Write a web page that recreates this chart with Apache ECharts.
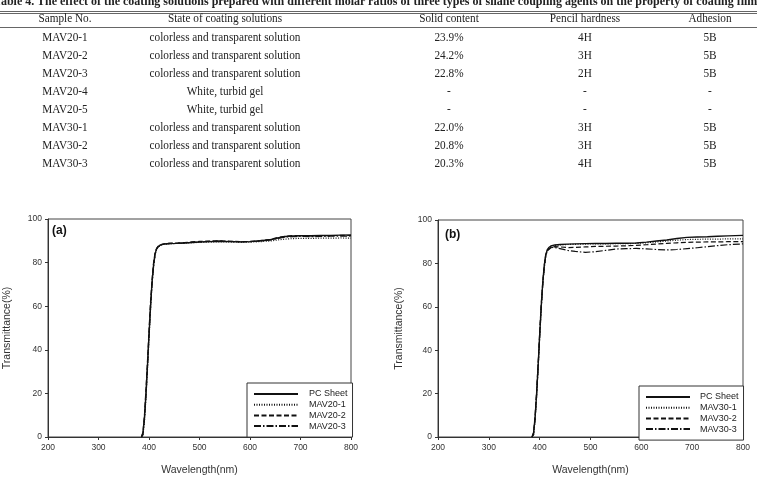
<!DOCTYPE html>
<html>
<head>
<meta charset="utf-8">
<script src="https://cdn.jsdelivr.net/npm/echarts@6/dist/echarts.min.js"></script>
<style>
html,body{margin:0;padding:0;background:#fff;}
#wrap{position:relative;width:757px;height:477px;overflow:hidden;}
#chart{position:absolute;left:0;top:0;width:757px;height:477px;}
#tbl{position:absolute;left:0;top:0;width:757px;height:180px;font-family:"Liberation Serif","Times New Roman",serif;color:#222;}
.cell{position:absolute;white-space:nowrap;transform:translate(-50%,-50%) scaleX(0.9);font-size:12.5px;line-height:14px;}
.rule{position:absolute;left:0;width:757px;height:1px;background:#666;}
</style>
</head>
<body>
<div id="wrap"><div id="chart"></div><div id="tbl"></div></div>
<script>
// table
var tableTitle='Table 4. The effect of the coating solutions prepared with different molar ratios of three types of silane coupling agents on the property of coating films';
var tableHeader=['Sample No.','State of coating solutions','Solid content','Pencil hardness','Adhesion'];
var sampleNo=['MAV20-1','MAV20-2','MAV20-3','MAV20-4','MAV20-5','MAV30-1','MAV30-2','MAV30-3'];
var solState=['colorless and transparent solution','colorless and transparent solution','colorless and transparent solution','White, turbid gel','White, turbid gel','colorless and transparent solution','colorless and transparent solution','colorless and transparent solution'];
var solidContent=['23.9%','24.2%','22.8%','-','-','22.0%','20.8%','20.3%'];
var pencilHardness=['4H','3H','2H','-','-','3H','3H','4H'];
var adhesion=['5B','5B','5B','-','-','5B','5B','5B'];

// spectra (a)
var wlA=[385,388,391,394,397,400,403,406,409,412,415,418,422,426,430,440,455,470,485,500,520,540,560,580,600,620,640,655,670,685,700,720,740,760,780,800];
var pcA=[0,2,9,20,33,47,60,71,79,84,86.3,87.3,88,88.3,88.5,88.7,88.8,89,89.2,89.4,89.6,89.8,89.6,89.5,89.6,90,90.5,91.3,92,92.2,92.3,92.3,92.4,92.5,92.6,92.7];
var mav201=[0,1,7,18,31,45,58,70,78,83.5,86,87.1,87.9,88.2,88.4,88.6,88.8,88.9,89.1,89.3,89.4,89.5,89.4,89.3,89.4,89.6,89.9,90.4,90.8,91,91.1,91.1,91.2,91.2,91.3,91.2];
var mav202=[0,2,10,22,35,49,62,72,80,84.5,86.5,87.5,88.1,88.4,88.6,88.9,89,89.2,89.5,89.7,89.9,90,89.8,89.6,89.7,90.1,90.6,91.5,92.1,92.4,92.3,92.2,92.4,92.3,92.5,92.4];
var mav203=[0,1,8,19,32,46,59,70,78,83.8,86.2,87.2,87.9,88.3,88.5,88.7,88.9,89,89.3,89.5,89.7,89.9,89.7,89.5,89.6,89.9,90.4,91.1,91.7,91.9,92,91.9,92,92.1,92.1,92.2];

// spectra (b)
var wlB=[385,388,391,394,397,400,403,406,409,412,415,418,422,426,430,440,455,470,490,510,530,550,570,590,610,630,650,670,690,710,730,750,770,800];
var pcB=[0,2,9,20,33,47,60,71,79,84,86.3,87.3,88,88.3,88.5,88.7,88.9,89,89.1,89.2,89.2,89.3,89.3,89.4,89.8,90.3,90.8,91.5,92,92.2,92.3,92.5,92.7,92.9];
var mav301=[0,1,8,19,32,46,59,70,78,83.6,86,87,87.8,88.1,88.3,88.5,88.7,88.8,88.9,89,89,89.1,89.1,89.2,89.5,89.9,90.3,90.7,91,91.1,91.2,91.2,91.3,91.3];
var mav302=[0,2,10,21,34,48,61,71,79,84,86,86.8,87.4,87.6,87.7,87.6,87.3,87.4,87.6,87.8,87.9,88,88.1,88.3,88.6,88.9,89.2,89.5,89.7,89.8,89.9,89.9,90,90];
var mav303=[0,1,8,19,32,46,59,70,78,83.5,85.8,86.7,87.2,87.4,87.3,86.8,86,85.5,85.1,85.4,86,86.6,86.8,86.9,86.7,86.4,86.2,86.4,86.8,87.2,87.7,88.2,88.6,89];

var namesA=['PC Sheet','MAV20-1','MAV20-2','MAV20-3'];
var namesB=['PC Sheet','MAV30-1','MAV30-2','MAV30-3'];
var dashes=['solid',[1,1.5],[5,2.5],[7,2,1.5,2]];

// build table
var tbl=document.getElementById('tbl');
var colX=[65,225,449,585,710];
function addCell(txt,x,y,extra){
    var d=document.createElement('div');
    d.className='cell';
    d.style.left=x+'px';
    d.style.top=y+'px';
    if(extra) d.style.cssText+=extra;
    d.textContent=txt;
    tbl.appendChild(d);
}
function addRule(y){
    var d=document.createElement('div');
    d.className='rule';
    d.style.top=y+'px';
    tbl.appendChild(d);
}
addCell(tableTitle,378,1,'font-weight:bold;font-size:12px;transform:translate(-50%,-50%);');
addRule(11);addRule(13);addRule(27);
tableHeader.forEach(function(h,i){addCell(h,colX[i],18);});
for(var r=0;r<sampleNo.length;r++){
    var y=37+r*18;
    var row=[sampleNo[r],solState[r],solidContent[r],pencilHardness[r],adhesion[r]];
    row.forEach(function(t,i){addCell(t,colX[i],y);});
}

// charts
var chart=echarts.init(document.getElementById('chart'));
var font='"Liberation Sans", Arial, sans-serif';

function pairs(xs,ys){
    return xs.map(function(x,i){return [x,ys[i]];});
}
function mkSeries(name,xs,ys,k,idx){
    return {
        name:name,
        type:'line',
        xAxisIndex:idx,
        yAxisIndex:idx,
        data:pairs(xs,ys),
        symbol:'none',
        silent:true,
        itemStyle:{color:'#111'},
        lineStyle:{color:'#111',width:k==0?1.4:1.2,type:dashes[k]}
    };
}
function mkX(idx){
    return {
        type:'value',gridIndex:idx,min:200,max:800,interval:100,
        name:'Wavelength(nm)',nameLocation:'middle',nameGap:28,
        nameTextStyle:{fontFamily:font,fontSize:10.5,color:'#333'},
        axisLine:{show:true,lineStyle:{color:'#333',width:1}},
        axisTick:{show:true,length:3,lineStyle:{color:'#333'}},
        axisLabel:{fontFamily:font,fontSize:8.5,color:'#333',margin:6},
        splitLine:{show:false}
    };
}
function mkY(idx){
    return {
        type:'value',gridIndex:idx,min:0,max:100,interval:20,
        name:'Transmittance(%)',nameLocation:'middle',nameGap:idx==0?35:33,
        nameTextStyle:{fontFamily:font,fontSize:10.5,color:'#333'},
        axisLine:{show:true,lineStyle:{color:'#333',width:1}},
        axisTick:{show:true,length:3,lineStyle:{color:'#333'}},
        axisLabel:{fontFamily:font,fontSize:8.5,color:'#333',margin:6},
        splitLine:{show:false}
    };
}
function mkLegend(names,left,top,textPad){
    return {
        data:names,orient:'vertical',left:left,top:top,
        padding:[6,5,6,6],itemWidth:44,itemHeight:10,itemGap:0.7,
        borderColor:'#333',borderWidth:1,backgroundColor:'#fff',
        selectedMode:false,
        itemStyle:{opacity:0},
        textStyle:{fontFamily:font,fontSize:9,color:'#222',lineHeight:10,padding:[0,0,0,textPad]}
    };
}

var series=[];
[pcA,mav201,mav202,mav203].forEach(function(ys,k){series.push(mkSeries(namesA[k],wlA,ys,k,0));});
[pcB,mav301,mav302,mav303].forEach(function(ys,k){series.push(mkSeries(namesB[k],wlB,ys,k,1));});

var option={
    animation:false,
    grid:[
        {left:48,top:219,width:303,height:218,show:true,borderColor:'#444',borderWidth:1},
        {left:438,top:220,width:305,height:220,show:true,borderColor:'#444',borderWidth:1}
    ],
    xAxis:[mkX(0),mkX(1)],
    yAxis:[mkY(0),mkY(1)],
    legend:[mkLegend(namesA,247,383,6),mkLegend(namesB,639,386,5)],
    graphic:[
        {type:'text',left:52,top:225,style:{text:'(a)',font:'bold 12px '+font,fill:'#111'}},
        {type:'text',left:445,top:229,style:{text:'(b)',font:'bold 12px '+font,fill:'#111'}}
    ],
    series:series
};
chart.setOption(option);
</script>
</body>
</html>
